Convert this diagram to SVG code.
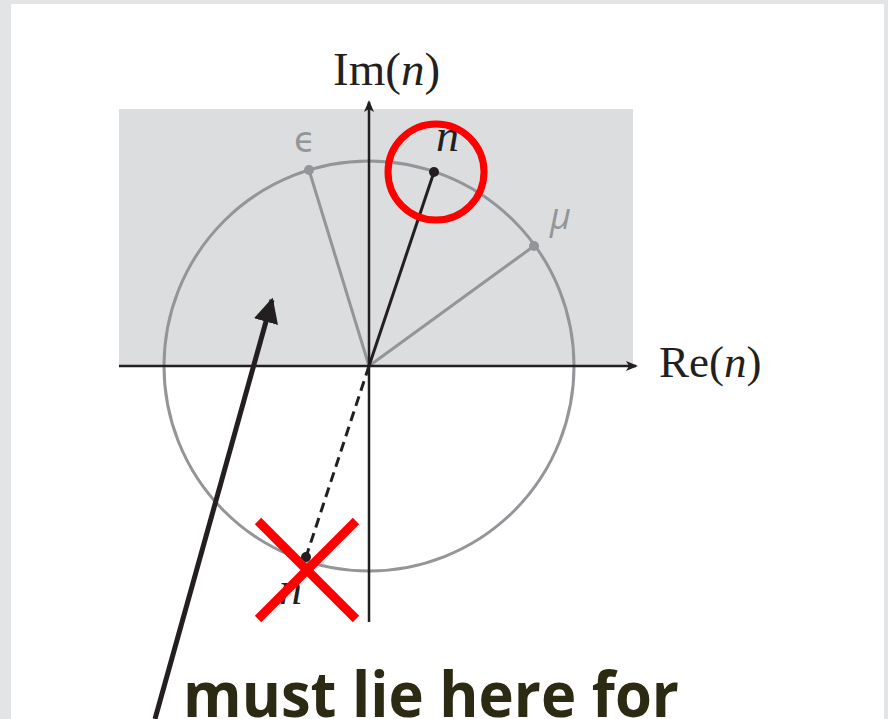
<svg xmlns="http://www.w3.org/2000/svg" width="888" height="719" viewBox="0 0 888 719">
<style>
.serif{font-family:"Liberation Serif","DejaVu Serif",serif;fill:#231f20}
.gl{stroke:#939598;stroke-width:3;fill:none}
.ax{stroke:#231f20;stroke-width:2.5;fill:none}
.red{stroke:#ff0000;fill:none}
</style>
<defs>
<marker id="ah" viewBox="0 0 12 10" refX="10" refY="5" markerWidth="12" markerHeight="10" markerUnits="userSpaceOnUse" orient="auto">
<path d="M0,0 L12,5 L0,10 L3,5 Z" fill="#231f20"/>
</marker>
<marker id="bh" viewBox="0 0 10 10" refX="9" refY="5" markerWidth="5" markerHeight="5" orient="auto">
<path d="M0,0 L10,5 L0,10 Z" fill="#231f20"/>
</marker>
</defs>
<rect width="888" height="719" fill="#e3e4e6"/>
<rect x="11" y="4" width="873" height="715" fill="#ffffff"/>
<rect id="region" x="119" y="109" width="514" height="256" fill="#dcdddf"/>
<g id="circle"><circle cx="369" cy="366" r="205" class="gl"/></g>
<g id="connectors">
<line x1="369" y1="366" x2="309" y2="170" class="gl"/>
<line x1="369" y1="366" x2="534" y2="246" class="gl"/>
<line x1="369" y1="366" x2="434" y2="172" stroke="#231f20" stroke-width="3"/>
<line x1="369" y1="366" x2="306" y2="557" stroke="#231f20" stroke-width="3" stroke-dasharray="10,6"/>
<line x1="119" y1="366" x2="636" y2="366" class="ax" marker-end="url(#ah)"/>
<line x1="369" y1="622" x2="369" y2="102" class="ax" marker-end="url(#ah)"/>
<line x1="155" y1="719" x2="272" y2="300" stroke="#231f20" stroke-width="5" marker-end="url(#bh)"/>
</g>
<g id="points">
<circle cx="309" cy="170" r="5" fill="#939598"/>
<circle cx="534" cy="246" r="5" fill="#939598"/>
<circle cx="434" cy="172" r="5" fill="#231f20"/>
<circle cx="306" cy="557" r="5" fill="#231f20"/>
</g>
<g id="labels">
<text x="333" y="85" class="serif" font-size="47">Im(<tspan font-style="italic">n</tspan>)</text>
<text x="659" y="377" class="serif" font-size="45">Re(<tspan font-style="italic">n</tspan>)</text>
<text x="436" y="151" class="serif" font-size="46" font-style="italic">n</text>
<text x="279" y="604" class="serif" font-size="46" font-style="italic">n</text>
<text x="294" y="152" font-family="DejaVu Sans,sans-serif" font-size="35" fill="#939598">ϵ</text>
<text x="550" y="229" font-family="Open Sans,sans-serif" font-size="36" font-style="italic" fill="#939598">μ</text>
</g>
<g id="marks">
<circle cx="436" cy="172" r="48" class="red" stroke-width="7"/>
<line x1="258" y1="521" x2="356" y2="619" class="red" stroke-width="9"/>
<line x1="356" y1="521" x2="258" y2="619" class="red" stroke-width="9"/>
</g>
<text x="183" y="717" font-family="Open Sans,sans-serif" font-weight="bold" font-size="62" fill="#2d2a14" textLength="496" lengthAdjust="spacingAndGlyphs">must lie here for</text>
</svg>
